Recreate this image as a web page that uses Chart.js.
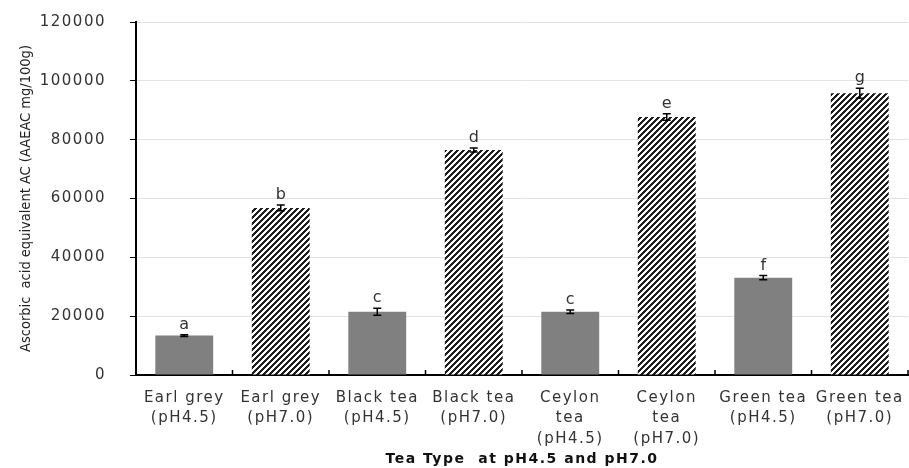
<!DOCTYPE html>
<html>
<head>
<meta charset="utf-8">
<script src="https://cdn.jsdelivr.net/npm/chart.js@4/dist/chart.umd.min.js"></script>
<style>
  html, body { margin: 0; padding: 0; background: #fff; }
  #wrap { width: 909px; height: 468px; }
</style>
</head>
<body>
<div id="wrap"><canvas id="chart" width="909" height="468"></canvas></div>
<script>
// Tea types, two pH levels each
const categories = [
  ['Earl grey', '(pH4.5)'], ['Earl grey', '(pH7.0)'],
  ['Black tea', '(pH4.5)'], ['Black tea', '(pH7.0)'],
  ['Ceylon', 'tea', '(pH4.5)'], ['Ceylon', 'tea', '(pH7.0)'],
  ['Green tea', '(pH4.5)'], ['Green tea', '(pH7.0)']
];
const values = [13400, 56800, 21500, 76500, 21500, 87700, 33100, 95800];
const errors = [300, 1000, 1200, 700, 600, 1100, 700, 1700];
const letters = ['a', 'b', 'c', 'd', 'c', 'e', 'f', 'g'];
const hatched = [false, true, false, true, false, true, false, true];
const yTicks = [0, 20000, 40000, 60000, 80000, 100000, 120000];

const yTitle = 'Ascorbic  acid equivalent AC (AAEAC mg/100g)';
const xTitle = 'Tea Type  at pH4.5 and pH7.0';

// diagonal "////" hatch, set pixel by pixel so the tiles join cleanly
function makeHatch() {
  const s = 6;
  const c = document.createElement('canvas');
  c.width = s; c.height = s;
  const g = c.getContext('2d');
  const img = g.createImageData(s, s);
  for (let py = 0; py < s; py++) {
    for (let px = 0; px < s; px++) {
      const k = (py * s + px) * 4;
      const dark = (px + py) % s < 3;
      const v = dark ? 30 : 255;
      img.data[k] = v; img.data[k + 1] = v; img.data[k + 2] = v; img.data[k + 3] = 255;
    }
  }
  g.putImageData(img, 0, 0);
  return document.getElementById('chart').getContext('2d').createPattern(c, 'repeat');
}
const hatch = makeHatch();

// error bars, significance letters, x ticks and y title
const extras = {
  id: 'extras',
  beforeDraw(chart) {
    chart.ctx.letterSpacing = '1.5px';
  },
  afterDatasetsDraw(chart) {
    const ctx = chart.ctx;
    const x = chart.scales.x, y = chart.scales.y;
    const area = chart.chartArea;
    ctx.save();
    ctx.letterSpacing = '0px';
    ctx.strokeStyle = '#000';
    ctx.lineWidth = 1.5;
    values.forEach((v, i) => {
      const cx = x.getPixelForValue(i);
      const top = y.getPixelForValue(v + errors[i]);
      const bot = y.getPixelForValue(v - errors[i]);
      ctx.beginPath();
      ctx.moveTo(cx, top); ctx.lineTo(cx, bot);
      ctx.moveTo(cx - 4, top); ctx.lineTo(cx + 4, top);
      ctx.moveTo(cx - 4, bot); ctx.lineTo(cx + 4, bot);
      ctx.stroke();
      ctx.fillStyle = '#333';
      ctx.font = '16px "DejaVu Sans"';
      ctx.textAlign = 'center';
      ctx.textBaseline = 'alphabetic';
      ctx.fillText(letters[i], cx, top - 6);
    });
    // category boundary ticks on the x axis
    ctx.lineWidth = 1.5;
    ctx.beginPath();
    for (let i = 0; i <= categories.length; i++) {
      const bx = i === 0 ? area.left : (i === categories.length ? area.right :
        (x.getPixelForValue(i - 1) + x.getPixelForValue(i)) / 2);
      ctx.moveTo(bx, area.bottom);
      ctx.lineTo(bx, area.bottom - 5);
    }
    ctx.stroke();
    // y axis title
    ctx.translate(26, (area.top + area.bottom) / 2);
    ctx.rotate(-Math.PI / 2);
    ctx.font = '14.5px "Liberation Sans Narrow", "DejaVu Sans Condensed", sans-serif';
    ctx.fillStyle = '#222';
    ctx.textAlign = 'center';
    ctx.textBaseline = 'middle';
    ctx.fillText(yTitle, 0, 0);
    ctx.restore();
  },
  afterDraw(chart) {
    chart.ctx.letterSpacing = '0px';
  }
};

new Chart(document.getElementById('chart'), {
  type: 'bar',
  data: {
    labels: categories,
    datasets: [{
      data: values,
      backgroundColor: hatched.map(h => h ? hatch : '#808080'),
      borderWidth: 0,
      categoryPercentage: 1,
      barPercentage: 0.6
    }]
  },
  options: {
    responsive: false,
    animation: false,
    layout: { padding: { top: 22, right: 1, bottom: 0, left: 0 } },
    plugins: { legend: { display: false }, tooltip: { enabled: false } },
    scales: {
      x: {
        grid: { display: false },
        border: { display: true, color: '#000', width: 2 },
        ticks: {
          autoSkip: false, maxRotation: 0, minRotation: 0, padding: 5,
          color: '#333',
          font: { family: 'DejaVu Sans', size: 15, lineHeight: 1.35 }
        },
        title: {
          display: true, text: xTitle, color: '#111',
          font: { family: 'DejaVu Sans', size: 14, weight: 'bold' },
          padding: { top: 0, bottom: 0 }
        },
        afterFit(scale) { scale.height = 93; }
      },
      y: {
        min: 0, max: 120000,
        afterBuildTicks(scale) { scale.ticks = yTicks.map(v => ({ value: v })); },
        grid: { color: '#e3e3e3', lineWidth: 1, tickColor: '#000', tickLength: 6 },
        border: { display: true, color: '#000', width: 2 },
        ticks: {
          padding: 24, color: '#333',
          font: { family: 'DejaVu Sans', size: 15 },
          callback: v => String(v)
        },
        afterFit(scale) {
          scale.width = 136;
          scale.paddingTop = 0;
          scale.paddingBottom = 0;
        }
      }
    }
  },
  plugins: [extras]
});
</script>
</body>
</html>
